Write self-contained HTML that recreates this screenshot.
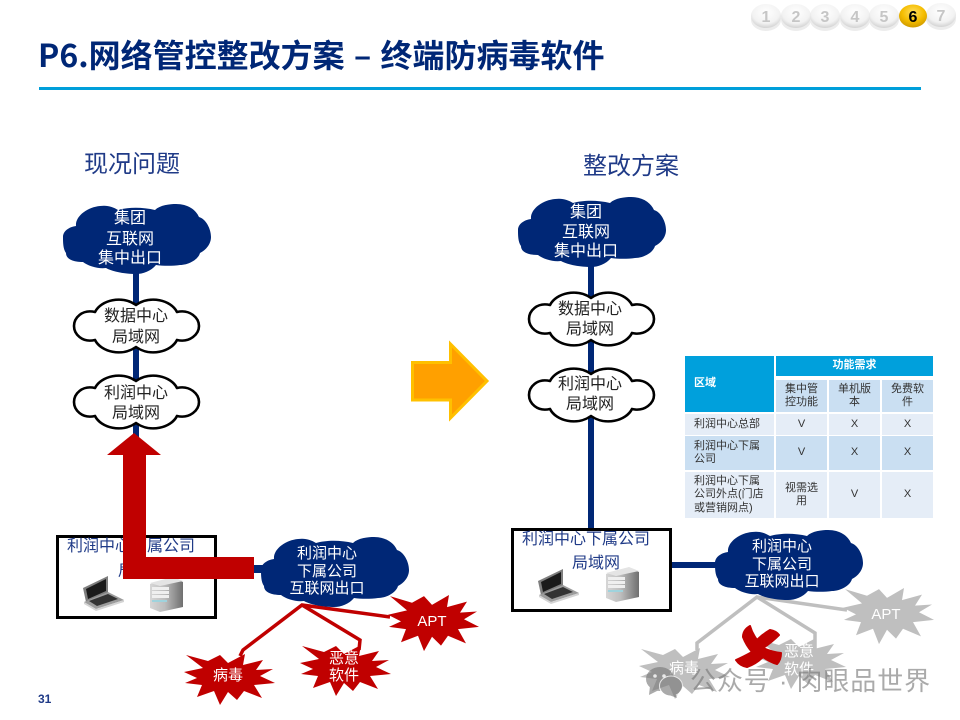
<!DOCTYPE html>
<html><head><meta charset="utf-8">
<style>
html,body{margin:0;padding:0;background:#fff}
#p{position:relative;width:960px;height:720px;overflow:hidden;background:#fff;font-family:"Liberation Sans","Noto Sans CJK SC",sans-serif}
svg{position:absolute;left:0;top:0}
svg text{font-family:"Liberation Sans","Noto Sans CJK SC",sans-serif}
.c{position:absolute;display:flex;align-items:center;font-size:11px;line-height:13.4px;color:#333;box-sizing:border-box;justify-content:center;text-align:center}
.l{justify-content:flex-start;text-align:left;padding-left:9px}
.h{background:#00a0dc;color:#fff;font-weight:bold}
.a{background:#e5edf7}.b{background:#cadff2}
</style></head><body><div id="p">
<svg width="960" height="720" viewBox="0 0 960 720">
<defs>
<radialGradient id="ws" cx="50%" cy="35%" r="65%"><stop offset="0" stop-color="#fff"/><stop offset=".7" stop-color="#f2f2f2"/><stop offset="1" stop-color="#d2d2d2"/></radialGradient>
<radialGradient id="gs" cx="50%" cy="35%" r="65%"><stop offset="0" stop-color="#ffdf60"/><stop offset=".6" stop-color="#f5bd00"/><stop offset="1" stop-color="#cf9a00"/></radialGradient>
<linearGradient id="srv" x1="0" x2="1"><stop offset="0" stop-color="#d6d6d6"/><stop offset=".45" stop-color="#bdbdbd"/><stop offset="1" stop-color="#6f6f6f"/></linearGradient>
<path id="nc" fill="#002776" d="M0,33 C0,27 6,23 13,22 C12,12 25,3 37,2 C45,1 50,3 55,6 C65,3 80,3 92,6 C97,1 107,0 113,0 C125,0 133,6 136,13 C143,15 148,25 148,33 C148,40 143,46 137,49 C135,56 125,61 117,61 C110,62 100,62 93,61 C88,67 80,70 73,70 C63,70 50,68 43,64 C35,65 25,62 20,58 C10,58 3,55 3,49 C0,45 0,38 0,33Z"/>
<path id="wc" fill="#fff" stroke="#000" stroke-width="2.600" stroke-linejoin="round" d="M21,15 C27,3 48,-2 62,8 C76,-2 97,3 103,15 C116,12 125,21 125,29 C125,37 116,46 103,43 C97,55 76,60 62,50 C48,60 27,55 21,43 C8,46 0,37 0,29 C0,21 8,12 21,15Z"/>
<polygon id="st" points="1,29 13,24 0,18 19,14 2,1 24,7 36,1 44,9 61,0 59,11 79,6 72,16 89,15 76,22 91,29 70,31 78,44 60,37 53,46 44,38 36,51 30,37 13,43 18,31"/>
<g id="lap"><polygon points="0,13 25,1 25,18 3,27" fill="#7e7e7e"/><polygon points="3,14 23,4 23,16 5,24" fill="#1a1a1a"/><polygon points="1,27 25,17 41,25 13,34" fill="#9c9c9c"/><polygon points="6,26 25,19 35,24 14,31" fill="#333"/><polygon points="1,27 13,34 41,25 41,27 13,36 1,29" fill="#d4d4d4"/></g>
<g id="srvg"><polygon points="0,8 23,2 33,6 33,31 10,36 0,32" fill="url(#srv)"/><polygon points="0,7 23,1 33,5 10,10" fill="#e4e4e4"/><rect x="2" y="11" width="17" height="3" fill="#efefef"/><rect x="2" y="15" width="17" height="3" fill="#efefef"/><rect x="2" y="19" width="17" height="3" fill="#efefef"/><rect x="2" y="24" width="15" height="2" fill="#9fd3dd"/></g>
</defs>

<!-- pager -->
<g fill="#ddd" opacity=".55"><ellipse cx="766" cy="20" rx="15" ry="11"/><ellipse cx="796" cy="20" rx="15" ry="11"/><ellipse cx="825" cy="20" rx="15" ry="11"/><ellipse cx="855" cy="20" rx="15" ry="11"/><ellipse cx="884" cy="20" rx="15" ry="11"/><ellipse cx="941" cy="19" rx="15" ry="11"/></g>
<ellipse cx="766" cy="16" rx="15" ry="12" fill="url(#ws)"/><ellipse cx="796" cy="16" rx="15" ry="12" fill="url(#ws)"/><ellipse cx="825" cy="16" rx="15" ry="12" fill="url(#ws)"/><ellipse cx="855" cy="16" rx="15" ry="12" fill="url(#ws)"/><ellipse cx="884" cy="16" rx="15" ry="12" fill="url(#ws)"/><ellipse cx="941" cy="15" rx="15" ry="12" fill="url(#ws)"/>
<ellipse cx="913" cy="16" rx="14" ry="11.500" fill="url(#gs)"/>
<g font-size="16" font-weight="bold" text-anchor="middle" fill="#c6c6c6"><text x="766" y="22">1</text><text x="796" y="22">2</text><text x="825" y="22">3</text><text x="855" y="22">4</text><text x="884" y="22">5</text><text x="913" y="22" fill="#000">6</text><text x="941" y="21">7</text></g>

<!-- title -->
<text x="38" y="67" font-size="32" font-weight="bold" fill="#002776" word-spacing="2" style="font-family:'Noto Sans CJK SC',sans-serif">P6.网络管控整改方案 – 终端防病毒软件</text>
<rect x="39" y="87" width="882" height="3" fill="#009fda"/>
<text x="132" y="172" font-size="24" fill="#1f3a87" text-anchor="middle">现况问题</text>
<text x="631" y="174" font-size="24" fill="#1f3a87" text-anchor="middle">整改方案</text>

<!-- left links -->
<rect x="133" y="270" width="6" height="170" fill="#002776"/>
<rect x="250" y="565" width="20" height="8" fill="#002776"/>
<g fill="none" stroke="#c00000" stroke-width="3.500"><polyline points="390,617 302,605 243,650 240,656"/><polyline points="302,605 360,640 359,650"/></g>

<!-- left clouds -->
<use href="#nc" x="63" y="204"/>
<use href="#wc" x="74" y="297"/>
<use href="#wc" x="74" y="373"/>
<use href="#nc" x="261" y="537"/>
<g font-size="16" text-anchor="middle">
<g fill="#fff"><text x="130" y="223">集团</text><text x="130" y="244">互联网</text><text x="130" y="263">集中出口</text></g>
<g fill="#222"><text x="136" y="321">数据中心</text><text x="136" y="342">局域网</text><text x="136" y="398">利润中心</text><text x="136" y="418">局域网</text></g>
</g>
<g font-size="15" text-anchor="middle" fill="#fff"><text x="327" y="558">利润中心</text><text x="327" y="576">下属公司</text><text x="327" y="593">互联网出口</text></g>

<!-- left box -->
<rect x="57.500" y="536.500" width="158" height="81" fill="#fff" stroke="#000" stroke-width="3"/>
<text x="131" y="551" font-size="16" fill="#1f3a87" text-anchor="middle">利润中心下属公司</text>
<text x="142" y="576" font-size="16" fill="#1f3a87" text-anchor="middle">局域网</text>
<use href="#lap" x="83" y="575"/>
<use href="#srvg" x="150" y="576"/>

<!-- red arrow -->
<polygon points="134,433 161,455 146,455 146,557 254,557 254,579 123,579 123,455 107,455" fill="#c00000"/>

<!-- left stars -->
<g fill="#c00000">
<use href="#st" x="184" y="654"/>
<use href="#st" transform="translate(300,645)"/>
<use href="#st" transform="translate(388,595) scale(1,1.1)"/>
</g>
<g font-size="15" text-anchor="middle" fill="#fff"><text x="228" y="680">病毒</text><text x="344" y="663">恶意</text><text x="344" y="680">软件</text><text x="432" y="626">APT</text></g>

<!-- orange arrow -->
<polygon points="412.500,362.500 450.500,362.500 450.500,344 487,381 450.500,418 450.500,400 412.500,400" fill="#ffa000" stroke="#ffc000" stroke-width="3"/>

<!-- right links -->
<polygon points="588,266 594,266 594,528 588,528" fill="#002776"/>
<rect x="670" y="562" width="50" height="6" fill="#002776"/>
<g fill="none" stroke="#bfbfbf" stroke-width="3.500"><polyline points="847,610 757,597 697,643 697,650"/><polyline points="757,597 815,633 815,650"/></g>

<!-- right clouds -->
<use href="#nc" x="518" y="197"/>
<use href="#wc" x="529" y="290"/>
<use href="#wc" x="529" y="366"/>
<use href="#nc" x="715" y="530"/>
<g font-size="16" text-anchor="middle">
<g fill="#fff"><text x="586" y="217">集团</text><text x="586" y="237">互联网</text><text x="586" y="256">集中出口</text></g>
<g fill="#222"><text x="590" y="314">数据中心</text><text x="590" y="334">局域网</text><text x="590" y="389">利润中心</text><text x="590" y="409">局域网</text></g>
</g>
<g font-size="15" text-anchor="middle" fill="#fff"><text x="782" y="551">利润中心</text><text x="782" y="569">下属公司</text><text x="782" y="586">互联网出口</text></g>

<!-- right box -->
<rect x="512.500" y="529.500" width="158" height="81" fill="#fff" stroke="#000" stroke-width="3"/>
<text x="586" y="544" font-size="16" fill="#1f3a87" text-anchor="middle">利润中心下属公司</text>
<text x="596" y="568" font-size="16" fill="#1f3a87" text-anchor="middle">局域网</text>
<use href="#lap" x="538" y="568"/>
<use href="#srvg" x="606" y="566"/>

<!-- right stars -->
<g fill="#bfbfbf">
<use href="#st" x="639" y="648"/>
<use href="#st" x="755" y="638"/>
<use href="#st" transform="translate(843,588) scale(1,1.1)"/>
</g>
<g font-size="15" text-anchor="middle" fill="#fff"><text x="684" y="673">病毒</text><text x="799" y="656">恶意</text><text x="799" y="674">软件</text><text x="886" y="619">APT</text></g>

<!-- red X -->
<path fill="#c00000" stroke="#c00000" stroke-width="2" stroke-linejoin="round" d="M750,626 Q743,630 743,637 Q746,645 752,652 Q743,657 736,660 Q740,666 747,667 Q756,664 763,657 Q770,662 777,664 Q781,660 781,653 Q772,652 763,648 Q772,642 779,635 Q776,631 770,630 Q763,634 757,640 Q752,633 750,626Z"/>

<!-- watermark -->
<g opacity=".62" fill="#777">
<ellipse cx="660" cy="679" rx="14" ry="12"/><polygon points="650,686 649,695 659,690"/>
<ellipse cx="671" cy="686" rx="11.500" ry="10" stroke="#fff" stroke-width="1"/><polygon points="675,693 677,698 669,695"/>
<text x="690" y="690" font-size="26" letter-spacing="0.900">公众号 · 肉眼品世界</text>
</g>
<g fill="#fff" opacity=".8"><circle cx="655" cy="676" r="1.800"/><circle cx="664" cy="676" r="1.800"/></g>

<text x="38" y="703" font-size="12" font-weight="bold" fill="#1f3a87">31</text>
</svg>

<!-- table -->
<div class="c h l" style="left:685px;top:356px;width:89px;height:56px">区域</div>
<div class="c h" style="left:776px;top:356px;width:157px;height:20px">功能需求</div>
<div class="c b" style="left:776px;top:380px;width:51px;height:32px">集中管<br>控功能</div>
<div class="c b" style="left:829px;top:380px;width:51px;height:32px">单机版<br>本</div>
<div class="c b" style="left:882px;top:380px;width:51px;height:32px">免费软<br>件</div>

<div class="c a l" style="left:685px;top:414px;width:89px;height:21px">利润中心总部</div>
<div class="c a" style="left:776px;top:414px;width:51px;height:21px">V</div>
<div class="c a" style="left:829px;top:414px;width:51px;height:21px">X</div>
<div class="c a" style="left:882px;top:414px;width:51px;height:21px">X</div>

<div class="c b l" style="left:685px;top:436px;width:89px;height:34px">利润中心下属<br>公司</div>
<div class="c b" style="left:776px;top:436px;width:51px;height:34px">V</div>
<div class="c b" style="left:829px;top:436px;width:51px;height:34px">X</div>
<div class="c b" style="left:882px;top:436px;width:51px;height:34px">X</div>

<div class="c a l" style="left:685px;top:472px;width:89px;height:46px">利润中心下属<br>公司外点(门店<br>或营销网点)</div>
<div class="c a" style="left:776px;top:472px;width:51px;height:46px">视需选<br>用</div>
<div class="c a" style="left:829px;top:472px;width:51px;height:46px">V</div>
<div class="c a" style="left:882px;top:472px;width:51px;height:46px">X</div>
</div></body></html>
